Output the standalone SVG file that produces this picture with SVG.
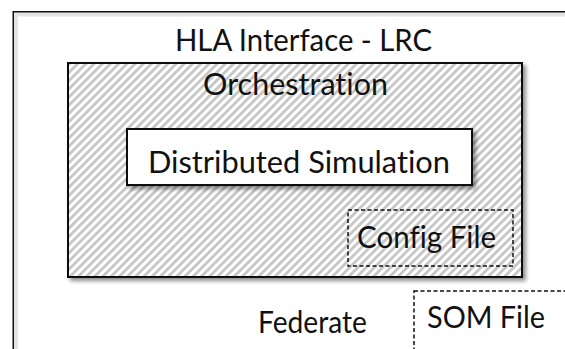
<svg xmlns="http://www.w3.org/2000/svg" width="565" height="349" viewBox="0 0 565 349">
<defs>
<pattern id="hatch" patternUnits="userSpaceOnUse" width="5.8" height="5.8" patternTransform="rotate(45)">
<rect width="5.8" height="5.8" fill="#ffffff"/>
<rect width="2.8" height="5.8" fill="#c6c6c6"/>
</pattern>
<filter id="shadow" x="-10%" y="-10%" width="125%" height="130%">
<feGaussianBlur in="SourceAlpha" stdDeviation="2"/>
<feOffset dx="3" dy="3" result="b"/>
<feComponentTransfer><feFuncA type="linear" slope="0.45"/></feComponentTransfer>
<feMerge><feMergeNode/><feMergeNode in="SourceGraphic"/></feMerge>
</filter>
</defs>
<style>
.t{font-family:Lato,"Open Sans",sans-serif;font-size:31px;fill:#111;text-anchor:middle;font-variant-ligatures:none}
.solid{stroke:#111;stroke-width:2}
.dash{stroke:#111;stroke-width:1.5;stroke-dasharray:4 2.5}
</style>
<rect width="565" height="349" fill="#ffffff"/>
<g id="federate">
<rect x="13.5" y="12" width="600" height="400" fill="#ffffff" class="solid"/>
<rect x="16" y="14.5" width="600" height="400" fill="none" stroke="#e4e4e4" stroke-width="4"/>
<text class="t" x="303.5" y="51" textLength="257" lengthAdjust="spacingAndGlyphs">HLA Interface - LRC</text>
<text class="t" x="312.5" y="333" textLength="109" lengthAdjust="spacingAndGlyphs">Federate</text>
</g>
<g id="orchestration">
<rect x="68" y="63" width="454" height="214" fill="url(#hatch)" class="solid" filter="url(#shadow)"/>
<text class="t" x="295.5" y="95" textLength="185" lengthAdjust="spacingAndGlyphs">Orchestration</text>
</g>
<g id="distributed-simulation">
<rect x="127" y="129" width="345" height="56" fill="#ffffff" class="solid" filter="url(#shadow)"/>
<text class="t" x="299" y="173" textLength="302" lengthAdjust="spacingAndGlyphs">Distributed Simulation</text>
</g>
<g id="config-file">
<rect x="348" y="210" width="165" height="56" fill="none" class="dash"/>
<text class="t" x="426.5" y="248" textLength="139" lengthAdjust="spacingAndGlyphs">Config File</text>
</g>
<g id="som-file">
<rect x="414" y="291" width="200" height="100" fill="#ffffff" class="dash"/>
<text class="t" x="486" y="328" textLength="118" lengthAdjust="spacingAndGlyphs">SOM File</text>
</g>
<g id="connectors"/>
</svg>
